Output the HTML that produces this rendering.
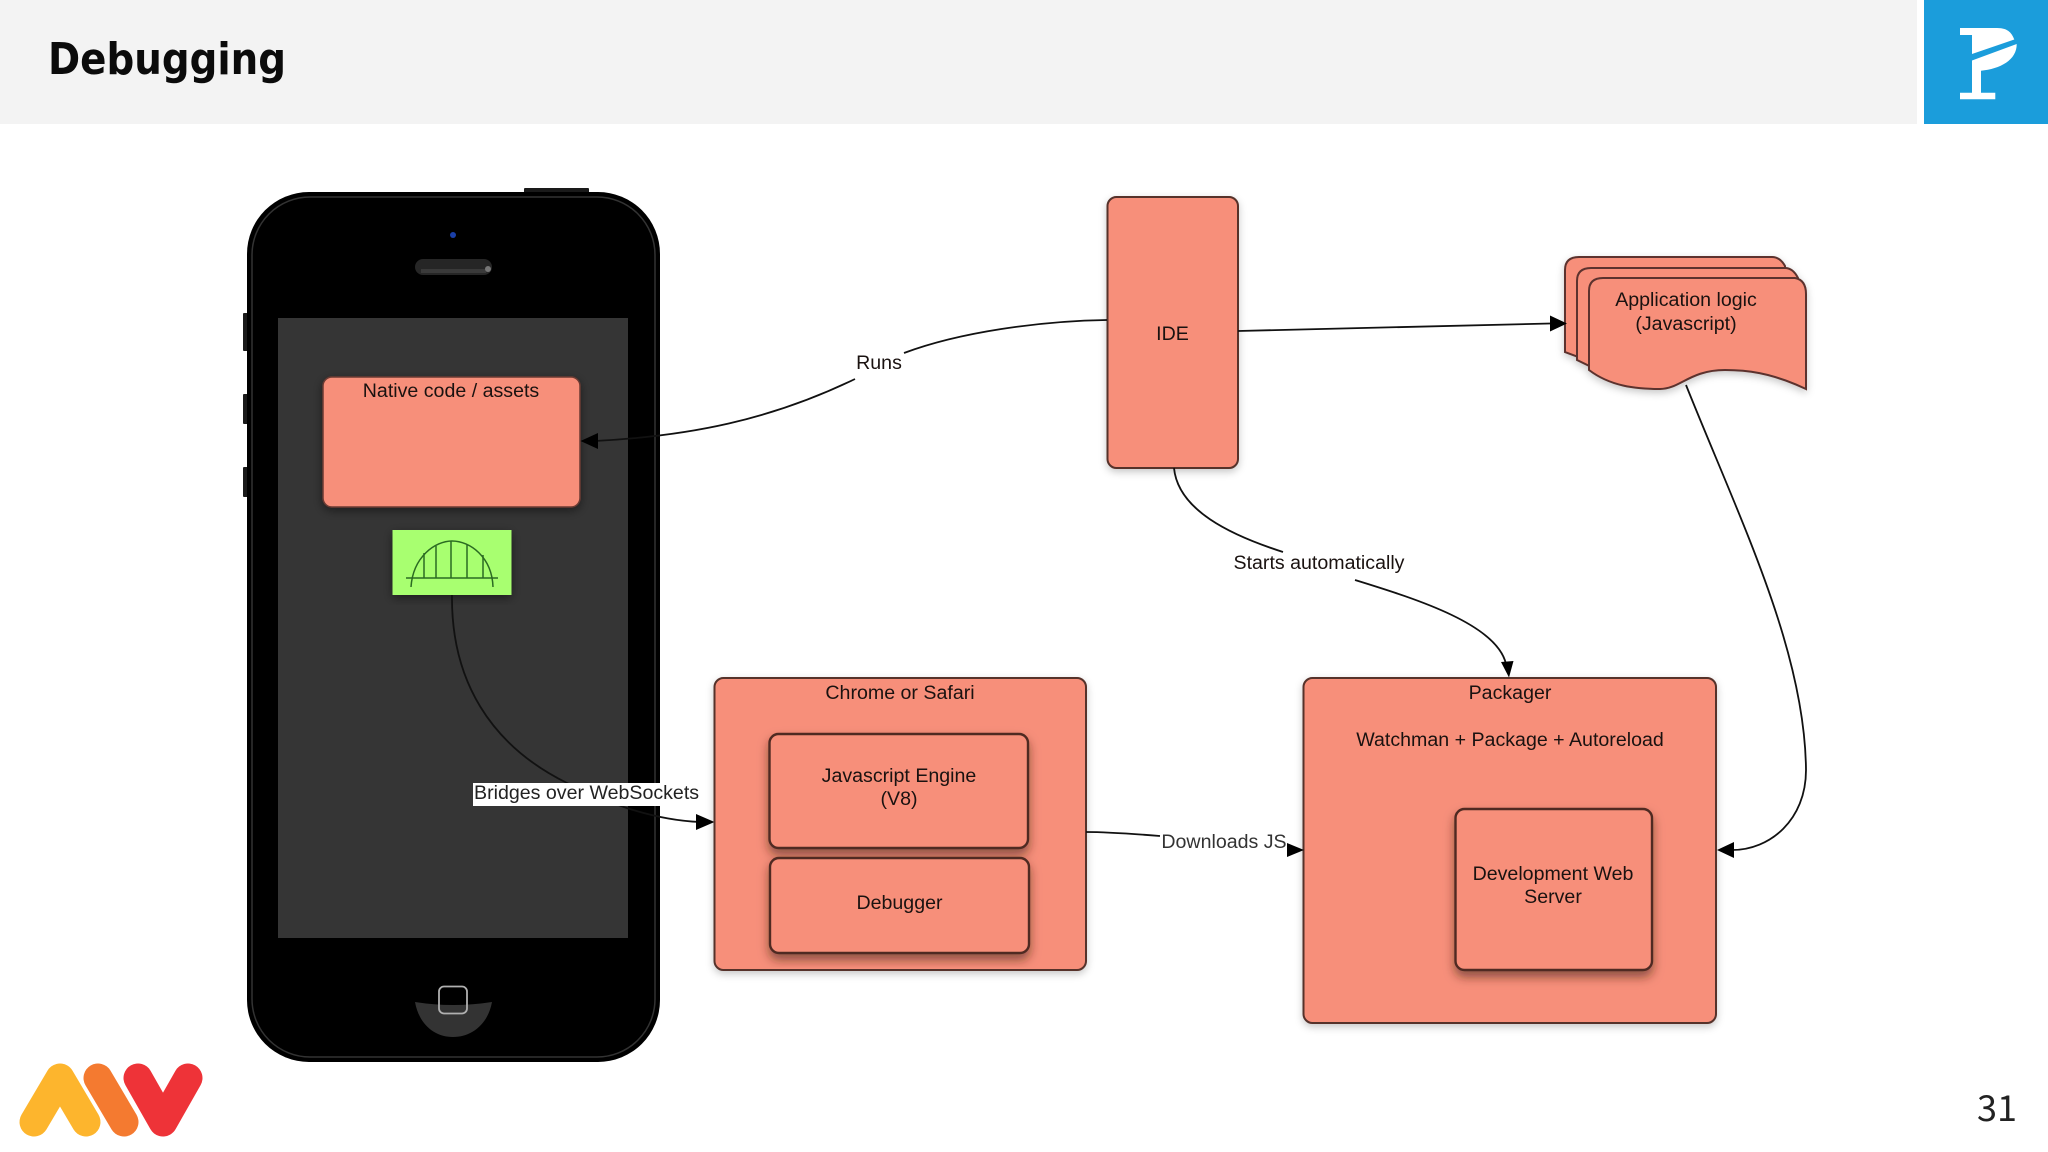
<!DOCTYPE html>
<html>
<head>
<meta charset="utf-8">
<style>
html,body{margin:0;padding:0;background:#fff;width:2048px;height:1152px;overflow:hidden}
svg{display:block}
text{font-family:"Liberation Sans",sans-serif;font-size:19.6px;fill:#1a1210;text-anchor:middle}
.box{fill:#f78f7a;stroke:#56302a;stroke-width:2;filter:url(#sh)}
.inner{fill:#f78f7a;stroke:#4f2a22;stroke-width:2.4;filter:url(#sh3)}
.line{fill:none;stroke:#111;stroke-width:1.8}
</style>
</head>
<body>
<svg width="2048" height="1152" viewBox="0 0 2048 1152" xmlns="http://www.w3.org/2000/svg">
<defs>
<filter id="sh" x="-15%" y="-15%" width="130%" height="130%"><feDropShadow dx="0" dy="3" stdDeviation="4" flood-color="#000" flood-opacity="0.22"/></filter>
<filter id="sh2" x="-15%" y="-15%" width="130%" height="130%"><feDropShadow dx="0" dy="3" stdDeviation="5" flood-color="#000" flood-opacity="0.45"/></filter>
<filter id="sh3" x="-15%" y="-15%" width="130%" height="130%"><feDropShadow dx="0" dy="6" stdDeviation="5" flood-color="#3a1a12" flood-opacity="0.55"/></filter>
</defs>

<!-- header -->
<rect x="0" y="0" width="1917" height="124" fill="#f3f3f3"/>
<rect x="1924" y="0" width="124" height="124" fill="#1b9ddb"/>
<text x="48" y="74" textLength="238" lengthAdjust="spacingAndGlyphs" style="font-family:'DejaVu Sans','Liberation Sans',sans-serif;font-size:44px;font-weight:700;fill:#0b0b0b;text-anchor:start">Debugging</text>
<path d="M1960 28H1997C2009 28 2012 34 2014.3 39.500L1972 54V35H1960Z" fill="#fff"/>
<path d="M1972 60.500L2016.700 44C2017 60 2000 69 1981 70.700V92.700H1995.300V99.300H1960V92.700H1972Z" fill="#fff"/>

<!-- phone -->
<rect x="524" y="188" width="65" height="6" rx="1" fill="#1a1a1a"/>
<rect x="243" y="313" width="6" height="38" rx="1" fill="#1a1a1a"/>
<rect x="243" y="394" width="6" height="30" rx="1" fill="#1a1a1a"/>
<rect x="243" y="467" width="6" height="30" rx="1" fill="#1a1a1a"/>
<rect x="247" y="192" width="413" height="870" rx="62" fill="#000"/>
<rect x="252" y="197" width="403" height="860" rx="58" fill="none" stroke="#333" stroke-width="1.5"/>
<rect x="278" y="318" width="350" height="620" fill="#353535"/>
<circle cx="453" cy="235" r="3" fill="#1a3fa8"/>
<rect x="415" y="259" width="77" height="16" rx="8" fill="#262626"/>
<path d="M421 271H486" stroke="#3a3a3a" stroke-width="4"/>
<circle cx="488" cy="269" r="3" fill="#777"/>
<path d="M415 1002Q453 1008 492 1002C488 1024 472 1037 453 1037C434 1037 419 1024 415 1002Z" fill="#333"/>
<rect x="439" y="986.500" width="28" height="27" rx="5" fill="none" stroke="#b0b0b0" stroke-width="1.8"/>

<!-- native -->
<rect x="323" y="377" width="257" height="130" rx="9" fill="#f78f7a" stroke="#6a3a33" stroke-width="1.5" filter="url(#sh2)"/>
<text x="451" y="397">Native code / assets</text>

<!-- bridge -->
<rect x="392.500" y="530" width="119" height="65" fill="#a8ff70" filter="url(#sh2)"/>
<g fill="none" stroke="#2b6b22" stroke-width="1.5">
<path d="M411 587C413 557 435 541 452 541C470 541 492 557 493 587"/>
<path d="M406 578H498"/>
<path d="M424 578V553M436 578V546M451 578V541M467 578V545M483 578V555"/>
</g>

<!-- connector bridges -->
<path class="line" d="M452 595C451 680 490 745 567 783C600 800 650 820 700 822"/>
<path d="M714.500 822L696 814V830Z" fill="#000"/>
<rect x="473" y="783" width="227" height="23" fill="#fff"/>
<text x="474" y="799" style="text-anchor:start;fill:#222">Bridges over WebSockets</text>

<!-- IDE -->
<rect class="box" x="1107.500" y="197" width="130.500" height="271" rx="9"/>
<text x="1172.500" y="340">IDE</text>

<!-- doc stack -->
<g fill="#f78f7a" stroke="#5c332d" stroke-width="2" filter="url(#sh)">
<path d="M1565 352V270Q1565 257 1579 257H1772Q1780 257 1785 266V300H1600V365Z"/>
<path d="M1577 360V281Q1577 268 1591 268H1785Q1793 268 1798 278V310H1610V376Z"/>
<path d="M1589 370V291Q1589 278 1603 278H1795Q1806 280 1806 294V389C1770 372 1745 370 1725 370C1690 370 1680 389 1660 389C1635 389 1610 386 1589 370Z"/>
</g>
<text x="1686" y="306">Application logic</text>
<text x="1686" y="330">(Javascript)</text>

<!-- Chrome -->
<rect class="box" x="714.500" y="678" width="371.500" height="292" rx="9"/>
<text x="900" y="699">Chrome or Safari</text>
<rect class="inner" x="769.500" y="734" width="258.500" height="114" rx="9"/>
<text x="899" y="782">Javascript Engine</text>
<text x="899" y="805">(V8)</text>
<rect class="inner" x="770" y="858" width="259" height="95" rx="9"/>
<text x="899.500" y="909">Debugger</text>

<!-- Packager -->
<rect class="box" x="1303.500" y="678" width="412.500" height="345" rx="9"/>
<text x="1510" y="699">Packager</text>
<text x="1510" y="746">Watchman + Package + Autoreload</text>
<rect class="inner" x="1455.500" y="809" width="196.500" height="161" rx="9"/>
<text x="1553" y="880">Development Web</text>
<text x="1553" y="903">Server</text>

<!-- connectors -->
<path class="line" d="M1107 320C1040 321 960 332 904 353"/>
<path class="line" d="M855 379C770 420 690 436 595 441"/>
<path d="M580.500 441L598 433V449Z" fill="#000"/>
<text x="879" y="369">Runs</text>

<path class="line" d="M1238 331L1550 323.500"/>
<path d="M1567 323.500L1550 315.500V331.500Z" fill="#000"/>

<path class="line" d="M1174 468C1178 510 1230 535 1283 552"/>
<path class="line" d="M1355 580C1420 600 1497 625 1506 664"/>
<path d="M1509 677.500L1501 662L1513.500 661Z" fill="#000"/>
<text x="1319" y="569">Starts automatically</text>

<path class="line" d="M1086 832C1110 832 1135 834 1160 836"/>
<path d="M1304 850L1287 843V857Z" fill="#000"/>
<text x="1224" y="848" style="fill:#333">Downloads JS</text>

<path class="line" d="M1686 385C1740 520 1805 650 1806 770C1806 820 1770 850 1732 850"/>
<path d="M1717 850L1734 842V858Z" fill="#000"/>

<!-- logo -->
<g fill="none" stroke-width="29" stroke-linecap="round" stroke-linejoin="round">
<path d="M34 1122L60 1078L86 1122" stroke="#fdb52d"/>
<path d="M98 1078L124 1122" stroke="#f47a30"/>
<path d="M138 1078L163 1122L188 1078" stroke="#ee3338"/>
</g>

<text x="1997" y="1121" style="font-family:'Noto Sans CJK JP','Liberation Sans',sans-serif;font-size:36px;fill:#222">31</text>
</svg>
</body>
</html>
